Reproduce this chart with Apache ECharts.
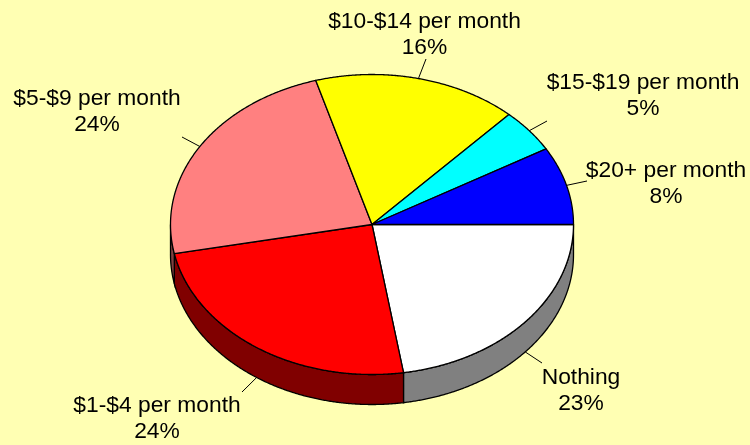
<!DOCTYPE html>
<html>
<head>
<meta charset="utf-8">
<style>html,body{margin:0;padding:0;background:#FFFFB3}#c{width:750px;height:445px}</style>
<script src="https://cdn.jsdelivr.net/npm/echarts@6/dist/echarts.min.js"></script>
</head>
<body>
<div id="c"></div>
<script>
// Data, clockwise from 3 o'clock
var categories = ['Nothing', '$1-$4 per month', '$5-$9 per month', '$10-$14 per month', '$15-$19 per month', '$20+ per month'];
var values = [22.5, 24.4, 23.6, 16.4, 4.7, 8.4];
var percentLabels = ['23%', '24%', '24%', '16%', '5%', '8%'];
var topColors = ['#FFFFFF', '#FF0000', '#FF8080', '#FFFF00', '#00FFFF', '#0000FF'];
var wallColors = ['#808080', '#800000', '#804040', '#808000', '#008080', '#000080'];

// Layout
var CX = 372, CY = 224.5, RX = 201.5, RY = 150, DEPTH = 30;
var labelCenters = [[581, 391], [157, 419], [97, 112], [424.5, 35], [643, 96], [666, 184]];
var leaderEnds = [[542, 363], [242, 392], [182, 137], [426, 59], [547, 121], [587, 181]];

var total = values.reduce(function (a, b) { return a + b; }, 0);
var starts = [], acc = 0;
values.forEach(function (v) { starts.push(acc / total * 360); acc += v; });
function pt(deg, dy) {
  var r = deg * Math.PI / 180;
  return [CX + RX * Math.cos(r), CY + RY * Math.sin(r) + (dy || 0)];
}
function arc(a, b, dy) {
  var pts = [], n = Math.max(2, Math.ceil((b - a) * 3));
  for (var i = 0; i <= n; i++) pts.push(pt(a + (b - a) * i / n, dy));
  return pts;
}
var seriesData = values.map(function (v, i) { return { name: categories[i], value: [v, i] }; });
var edge = { stroke: '#000', lineWidth: 1.3 };

function renderWall(params, api) {
  var i = api.value(1), a = starts[i], b = a + api.value(0) / total * 360;
  var s = Math.max(a, 0), e = Math.min(b, 180);
  if (e <= s) return { type: 'group', children: [] };
  var pts = arc(s, e, 0).concat(arc(s, e, DEPTH).reverse());
  return { type: 'polygon', shape: { points: pts }, style: { fill: wallColors[i], stroke: edge.stroke, lineWidth: edge.lineWidth } };
}
function renderTop(params, api) {
  var i = api.value(1), a = starts[i], b = a + api.value(0) / total * 360;
  var pts = [[CX, CY]].concat(arc(a, b, 0));
  return { type: 'polygon', shape: { points: pts }, style: { fill: topColors[i], stroke: edge.stroke, lineWidth: edge.lineWidth, lineJoin: 'round' } };
}
function renderLabel(params, api) {
  var i = api.value(1), a = starts[i], mid = a + api.value(0) / total * 180;
  var from = pt(mid, Math.sin(mid * Math.PI / 180) > 0 ? DEPTH : 0);
  var to = leaderEnds[i], c = labelCenters[i];
  return { type: 'group', children: [
    { type: 'line', shape: { x1: from[0], y1: from[1], x2: to[0], y2: to[1] }, style: { stroke: '#000', lineWidth: 1 } },
    { type: 'text', x: c[0], y: c[1], style: {
        text: categories[i] + '\n' + percentLabels[i], fill: '#000', align: 'center', verticalAlign: 'middle',
        textAlign: 'center', textVerticalAlign: 'middle',
        font: '22.8px "Liberation Sans", Arial, sans-serif', lineHeight: 26 } }
  ] };
}
var chart = echarts.init(document.getElementById('c'), null, { renderer: 'canvas' });
chart.setOption({
  backgroundColor: '#FFFFB3',
  animation: false,
  series: [
    { type: 'custom', name: 'sides', coordinateSystem: 'none', z: 1, silent: true, renderItem: renderWall, data: seriesData },
    { type: 'custom', name: 'tops', coordinateSystem: 'none', z: 2, silent: true, renderItem: renderTop, data: seriesData },
    { type: 'custom', name: 'labels', coordinateSystem: 'none', z: 3, silent: true, renderItem: renderLabel, data: seriesData }
  ]
});
</script>
</body>
</html>
